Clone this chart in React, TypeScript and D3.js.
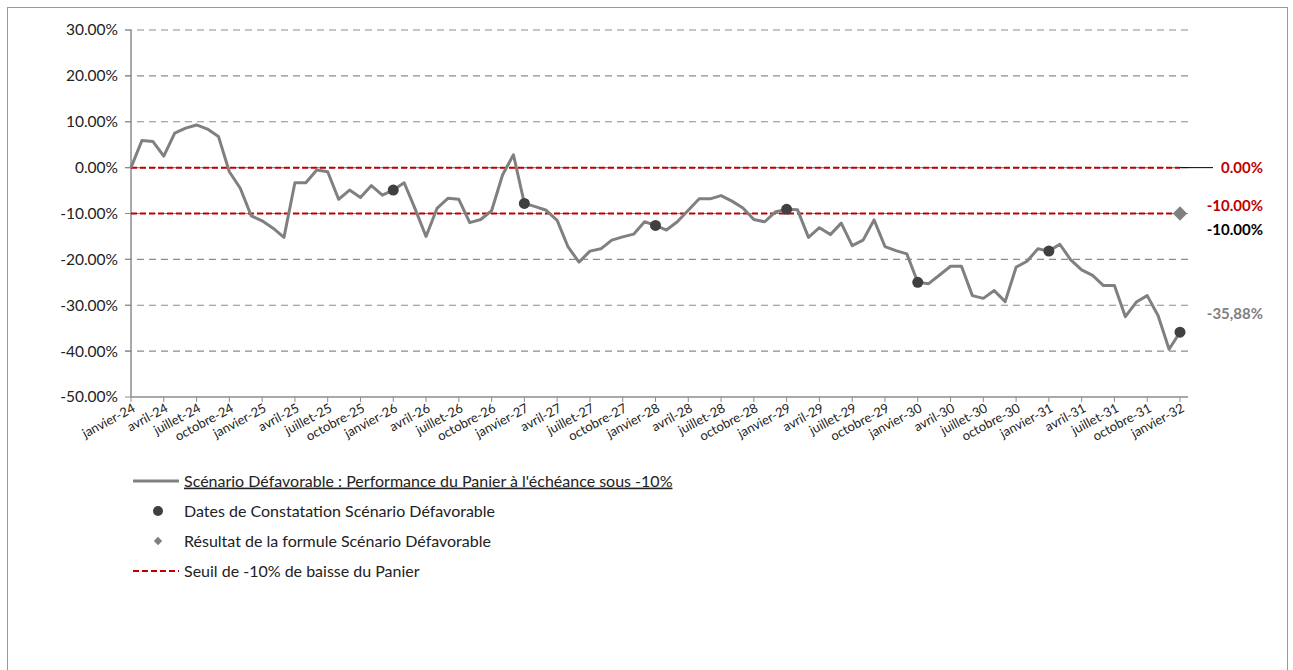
import { useEffect, useRef } from 'react'
import * as d3 from 'd3'

// monthly basket performance (%), janvier-24 .. janvier-32
const performance = [
  0, 5.9, 5.7, 2.5, 7.5, 8.6, 9.3, 8.4, 6.8, -0.9, -4.5, -10.5,
  -11.6, -13.2, -15.2, -3.3, -3.3, -0.5, -0.9, -6.9, -4.9, -6.5, -3.9, -6.0,
  -4.9, -3.3, -9.0, -15.0, -8.9, -6.7, -6.9, -12.0, -11.3, -9.4, -1.6, 2.8,
  -7.8, -8.5, -9.3, -11.5, -17.3, -20.6, -18.2, -17.7, -15.8, -15.1, -14.5, -11.8,
  -12.6, -13.6, -11.8, -9.3, -6.8, -6.8, -6.1, -7.3, -8.8, -11.3, -11.8, -9.6,
  -9.1, -9.2, -15.2, -13.1, -14.6, -12.1, -17.0, -15.8, -11.4, -17.2, -18.1, -18.8,
  -25.0, -25.3, -23.4, -21.5, -21.5, -27.9, -28.5, -26.8, -29.2, -21.7, -20.4, -17.7,
  -18.2, -16.7, -20.1, -22.3, -23.5, -25.7, -25.7, -32.5, -29.3, -27.9, -32.3, -39.6,
  -35.88,
]

// observation dates (month index)
const observationMonths = [24, 36, 48, 60, 72, 84, 96]

const tickLabels = [
  'janvier-24', 'avril-24', 'juillet-24', 'octobre-24',
  'janvier-25', 'avril-25', 'juillet-25', 'octobre-25',
  'janvier-26', 'avril-26', 'juillet-26', 'octobre-26',
  'janvier-27', 'avril-27', 'juillet-27', 'octobre-27',
  'janvier-28', 'avril-28', 'juillet-28', 'octobre-28',
  'janvier-29', 'avril-29', 'juillet-29', 'octobre-29',
  'janvier-30', 'avril-30', 'juillet-30', 'octobre-30',
  'janvier-31', 'avril-31', 'juillet-31', 'octobre-31',
  'janvier-32',
]

const yTicks = [30, 20, 10, 0, -10, -20, -30, -40, -50]
const thresholds = [0, -10]
const formulaResult = -10
const finalLabel = '-35,88%'

const legendItems = [
  { type: 'line', label: "Scénario Défavorable : Performance du Panier à l'échéance sous -10%" },
  { type: 'dot', label: 'Dates de Constatation Scénario Défavorable' },
  { type: 'diamond', label: 'Résultat de la formule Scénario Défavorable' },
  { type: 'dash', label: 'Seuil de -10% de baisse du Panier' },
]

const RED = '#c00000'
const GREY = '#808080'
const DARK = '#404040'
const FONT = 'Lato, "Noto Sans", sans-serif'

export default function App() {
  const svgRef = useRef<SVGSVGElement>(null)

  useEffect(() => {
    if (!svgRef.current) return
    const svg = d3.select(svgRef.current)
    svg.selectAll('*').remove()

    const left = 131
    const right = 1180
    const top = 30
    const bottom = 397

    svg.append('rect')
      .attr('x', 7.5).attr('y', 7.5)
      .attr('width', 1280).attr('height', 665)
      .attr('fill', '#fff').attr('stroke', '#9a9a9a')

    const x = d3.scaleLinear().domain([0, performance.length - 1]).range([left, right])
    const y = d3.scaleLinear().domain([-50, 30]).range([bottom, top])

    // gridlines
    svg.append('g').selectAll('line')
      .data(yTicks.filter(t => t !== -50))
      .enter().append('line')
      .attr('x1', left - 6).attr('x2', 1188)
      .attr('y1', d => y(d)).attr('y2', d => y(d))
      .attr('stroke', '#8c8c8c').attr('stroke-width', 1.2)
      .attr('stroke-dasharray', '7,5')

    // y axis
    const yAxis = svg.append('g')
    yAxis.append('line')
      .attr('x1', left).attr('x2', left).attr('y1', top).attr('y2', bottom)
      .attr('stroke', '#8c8c8c').attr('stroke-width', 1.5)
    yAxis.selectAll('line.tick').data(yTicks).enter().append('line')
      .attr('class', 'tick')
      .attr('x1', left - 6).attr('x2', left)
      .attr('y1', d => y(d)).attr('y2', d => y(d))
      .attr('stroke', '#8c8c8c')
    yAxis.selectAll('text').data(yTicks).enter().append('text')
      .attr('x', left - 13).attr('y', d => y(d))
      .attr('dy', '0.35em').attr('text-anchor', 'end')
      .attr('font-family', FONT).attr('font-size', 15.5).attr('fill', '#222')
      .text(d => d.toFixed(2) + '%')

    // x axis
    const xAxis = svg.append('g')
    xAxis.append('line')
      .attr('x1', left).attr('x2', 1188).attr('y1', bottom).attr('y2', bottom)
      .attr('stroke', '#8c8c8c').attr('stroke-width', 1.5)
    xAxis.selectAll('line.tick').data(tickLabels).enter().append('line')
      .attr('class', 'tick')
      .attr('x1', (_, i) => x(i * 3)).attr('x2', (_, i) => x(i * 3))
      .attr('y1', bottom).attr('y2', bottom + 5)
      .attr('stroke', '#8c8c8c')
    xAxis.selectAll('text').data(tickLabels).enter().append('text')
      .attr('transform', (_, i) => `translate(${x(i * 3) + 3},${bottom + 10}) rotate(-28)`)
      .attr('text-anchor', 'end').attr('dy', '0.35em')
      .attr('font-family', FONT).attr('font-size', 13).attr('fill', '#222')
      .text(d => d)

    // threshold lines
    svg.append('g').selectAll('line')
      .data(thresholds).enter().append('line')
      .attr('x1', left).attr('x2', right)
      .attr('y1', d => y(d)).attr('y2', d => y(d))
      .attr('stroke', RED).attr('stroke-width', 2)
      .attr('stroke-dasharray', '6,3')
    svg.append('line')
      .attr('x1', right).attr('x2', 1213)
      .attr('y1', y(0)).attr('y2', y(0))
      .attr('stroke', '#000').attr('stroke-width', 1)

    // performance line
    const line = d3.line<number>()
      .x((_, i) => x(i))
      .y(d => y(d))
    svg.append('path')
      .datum(performance)
      .attr('fill', 'none')
      .attr('stroke', GREY)
      .attr('stroke-width', 3)
      .attr('stroke-linejoin', 'round')
      .attr('d', line)

    // observation dots
    svg.append('g').selectAll('circle')
      .data(observationMonths).enter().append('circle')
      .attr('cx', d => x(d)).attr('cy', d => y(performance[d]))
      .attr('r', 5.5).attr('fill', DARK)

    // formula result diamond
    const diamond = d3.symbol().type(d3.symbolDiamond2).size(130)
    svg.append('path')
      .attr('d', diamond)
      .attr('transform', `translate(${x(performance.length - 1)},${y(formulaResult)})`)
      .attr('fill', GREY)

    // right side labels
    const labels = [
      { text: '0.00%', yy: y(0), color: RED },
      { text: '-10.00%', yy: y(formulaResult) - 8, color: RED },
      { text: '-10.00%', yy: y(formulaResult) + 16, color: '#000' },
      { text: finalLabel, yy: y(performance[performance.length - 1]) - 18, color: GREY },
    ]
    svg.append('g').selectAll('text')
      .data(labels).enter().append('text')
      .attr('x', 1263).attr('y', d => d.yy)
      .attr('dy', '0.35em').attr('text-anchor', 'end')
      .attr('font-family', FONT).attr('font-size', 15).attr('font-weight', 'bold')
      .attr('fill', d => d.color)
      .text(d => d.text)

    // legend
    const legend = svg.append('g').attr('transform', 'translate(133,481)')
    legendItems.forEach((item, i) => {
      const g = legend.append('g').attr('transform', `translate(0,${i * 30})`)
      if (item.type === 'line') {
        g.append('line').attr('x1', 0).attr('x2', 46).attr('stroke', GREY).attr('stroke-width', 3)
      } else if (item.type === 'dot') {
        g.append('circle').attr('cx', 25).attr('r', 5).attr('fill', DARK)
      } else if (item.type === 'diamond') {
        g.append('path').attr('d', d3.symbol().type(d3.symbolDiamond2).size(45))
          .attr('transform', 'translate(25,0)').attr('fill', GREY)
      } else {
        g.append('line').attr('x1', 0).attr('x2', 46).attr('stroke', RED)
          .attr('stroke-width', 2).attr('stroke-dasharray', '6,3')
      }
      g.append('text')
        .attr('x', 51).attr('dy', '0.35em')
        .attr('font-family', FONT).attr('font-size', 16).attr('fill', '#222')
        .attr('text-decoration', i === 0 ? 'underline' : 'none')
        .text(item.label)
    })
  }, [])

  return (
    <svg
      ref={svgRef}
      width={1293}
      height={670}
      style={{ position: 'absolute', left: 0, top: 0, background: '#fff' }}
    />
  )
}
